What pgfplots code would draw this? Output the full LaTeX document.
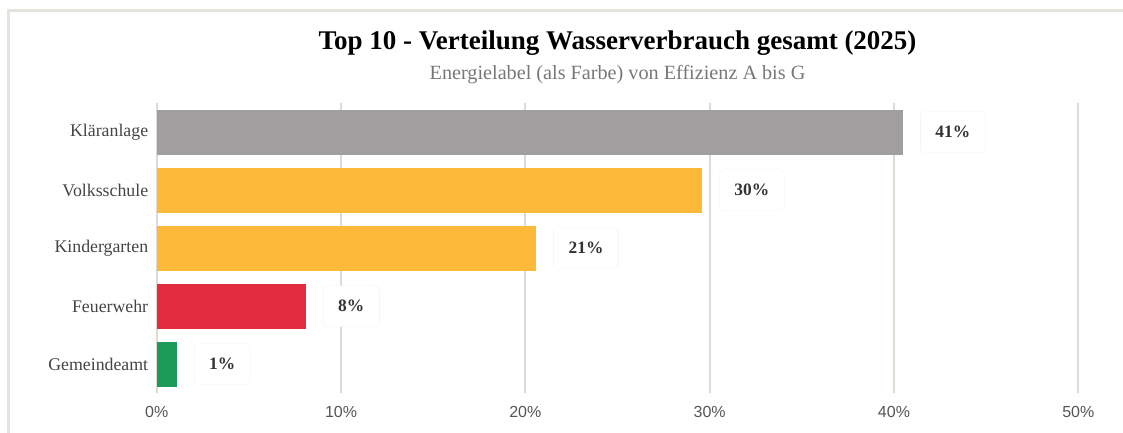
\documentclass[border=0pt]{standalone}
\usepackage{fontspec}
\setmainfont{Liberation Serif}
\newfontfamily\sansfont{Liberation Sans}
\usepackage{pgfplots}
\pgfplotsset{compat=1.18}
\definecolor{gridc}{HTML}{E0DBD2}
\definecolor{framec}{HTML}{E6E4DF}
\definecolor{cgrey}{HTML}{A19E9F}
\definecolor{corange}{HTML}{FDB93A}
\definecolor{cred}{HTML}{E32C3F}
\definecolor{cgreen}{HTML}{1B9A58}
\definecolor{labc}{HTML}{444444}
\definecolor{valc}{HTML}{333333}
\definecolor{tickc}{HTML}{555555}
\definecolor{subc}{HTML}{777777}
\begin{document}
\begin{tikzpicture}
\path[use as bounding box] (-156.7pt,-39pt) rectangle (966.3pt,393pt);
\draw[framec, line width=3pt] (-148pt,-45pt) -- (-148pt,382pt) -- (970pt,382pt);
\node[font=\fontsize{27}{31}\selectfont\bfseries, text=black] at (460.8pt,350pt) {Top 10 - Verteilung Wasserverbrauch gesamt (2025)};
\node[font=\fontsize{20.2}{24}\selectfont, text=subc] at (460.8pt,318pt) {Energielabel (als Farbe) von Effizienz A bis G};
\begin{axis}[
  at={(0,0)}, anchor=south west, scale only axis,
  width=921.6pt, height=290pt,
  xmin=0, xmax=50, ymin=-0.5, ymax=4.5, y dir=reverse,
  xbar, bar width=45pt, bar shift=0pt,
  axis line style={draw=none}, major tick length=0pt,
  xmajorgrids, major grid style={gridc, line width=2pt},
  xtick={0,10,20,30,40,50},
  /pgf/number format/assume math mode=true,
  xticklabel={\sansfont\pgfmathprintnumber{\tick}\%},
  xticklabel style={font=\fontsize{16}{19}\selectfont, text=tickc, yshift=-10pt},
  ytick={0,1,2,3,4},
  yticklabels={Kläranlage,Volksschule,Kindergarten,Feuerwehr,Gemeindeamt},
  yticklabel style={font=\fontsize{17.8}{20}\selectfont, text=labc, xshift=-5pt},
  point meta=explicit symbolic,
  nodes near coords,
  nodes near coords style={anchor=west, xshift=17pt, draw=black!5, fill=white,
    rounded corners=4pt, inner xsep=15pt, minimum height=41pt,
    font=\fontsize{17.4}{20}\selectfont\bfseries, text=valc},
]
\addplot[fill=cgrey, draw=none] coordinates {(40.5,0) [41\%]};
\addplot[fill=corange, draw=none] coordinates {(29.6,1) [30\%]};
\addplot[fill=corange, draw=none] coordinates {(20.6,2) [21\%]};
\addplot[fill=cred, draw=none] coordinates {(8.1,3) [8\%]};
\addplot[fill=cgreen, draw=none] coordinates {(1.1,4) [1\%]};
\end{axis}
\end{tikzpicture}
\end{document}
